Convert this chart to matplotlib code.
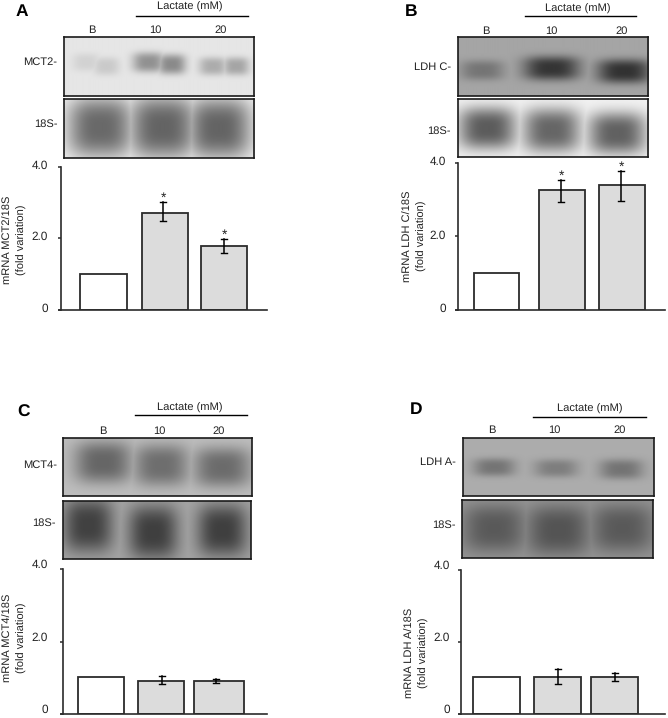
import matplotlib
matplotlib.use("Agg")
import matplotlib.pyplot as plt
from matplotlib.transforms import ScaledTranslation
import numpy as np

W, H = 668, 718
plt.rcParams["font.family"] = ["Liberation Sans", "DejaVu Sans"]
plt.rcParams["text.hinting"] = "no_hinting"
TXT = "#222222"
DARK = "#2b2b2b"

# values
a_values = [1.0, 2.7, 1.8]
a_low = [None, 2.49, 1.59]
a_high = [None, 3.02, 1.99]
b_values = [1.0, 3.27, 3.40]
b_low = [None, 2.94, 2.97]
b_high = [None, 3.54, 3.78]
c_values = [1.02, 0.92, 0.92]
c_low = [None, 0.83, 0.85]
c_high = [None, 1.05, 0.97]
d_values = [1.03, 1.03, 1.03]
d_low = [None, 0.83, 0.93]
d_high = [None, 1.25, 1.15]
tick_values = [0, 2, 4]
tick_labels = ["0", "2.0", "4.0"]
lane_labels = ["B", "10", "20"]

# blot bands: x, y, half width, half height, darkness
a_top = [(86, 62, 14, 9, 20), (106, 66, 13, 9, 28), (148, 62, 16, 10, 85), (171, 64, 14, 10, 92),
         (212, 66, 14, 9, 58), (235, 66, 13, 9, 65)]
a_18s = [(100, 127, 34, 31, 145), (162, 127, 35, 32, 150), (218, 128, 33, 31, 150)]
b_top = [(482, 70, 22, 10, 48), (551, 68, 28, 12, 112), (623, 71, 27, 12, 115)]
b_18s = [(487, 128, 29, 21, 150), (551, 130, 29, 22, 140), (616, 133, 29, 21, 145)]
c_top = [(103, 462, 29, 21, 88), (161, 465, 28, 21, 80), (222, 467, 29, 20, 82)]
c_18s = [(88, 525, 25, 27, 100), (153, 532, 25, 27, 102), (222, 530, 25, 26, 102)]
d_top = [(494, 467, 21, 9, 55), (556, 468, 22, 9, 46), (621, 469, 22, 10, 56)]
d_18s = [(494, 528, 32, 24, 60), (558, 530, 32, 25, 66), (622, 528, 32, 24, 60)]

panels = [
    dict(letter="A", letter_xy=(16, 12), values=a_values, low=a_low, high=a_high,
         axis=(60.5, 267, 310, 167), left=[80, 142, 201], right=[127, 188, 247], err_x=[163, 224],
         ylabel="mRNA MCT2/18S\n(fold variation)", ylabel_xy=(15, 240), tick_x=49, tick_up=2.5,
         lactate=(190, 7), line=(136, 248, 15.5), lanes=[(92, 30), (155, 30), (221, 30)],
         names=[("MCT2-", 57, 62), ("18S-", 58, 124)],
         blots=[((64, 254, 37, 96), 230, a_top), ((64, 254, 99, 158), 250, a_18s)], star=True),
    dict(letter="B", letter_xy=(405, 12), values=b_values, low=b_low, high=b_high,
         axis=(458, 665, 310, 163), left=[474, 539, 599], right=[519, 585, 645], err_x=[561, 621],
         ylabel="mRNA LDH C/18S\n(fold variation)", ylabel_xy=(415, 236), tick_x=447, tick_up=2,
         lactate=(578, 9), line=(525, 636, 16), lanes=[(486, 31), (551, 31), (622, 31)],
         names=[("LDH C-", 451, 67), ("18S-", 451, 131)],
         blots=[((458, 648, 37, 96), 165, b_top), ((458, 648, 99, 157), 242, b_18s)], star=True),
    dict(letter="C", letter_xy=(17, 412), values=c_values, low=c_low, high=c_high,
         axis=(63, 267, 714, 569), left=[78, 138, 194], right=[124, 184, 244], err_x=[162, 216],
         ylabel="mRNA MCT4/18S\n(fold variation)", ylabel_xy=(15, 638), tick_x=49, tick_up=5,
         lactate=(190, 408), line=(135, 247, 415), lanes=[(103, 431), (159, 431), (219, 431)],
         names=[("MCT4-", 57, 465), ("18S-", 56, 523)],
         blots=[((63, 252, 438, 496), 190, c_top), ((63, 251, 501, 559), 165, c_18s)], star=False),
    dict(letter="D", letter_xy=(410, 410), values=d_values, low=d_low, high=d_high,
         axis=(461, 665, 714, 570), left=[473, 534, 591], right=[520, 581, 638], err_x=[558, 615],
         ylabel="mRNA LDH A/18S\n(fold variation)", ylabel_xy=(417, 653), tick_x=451, tick_up=5,
         lactate=(590, 409), line=(533, 646, 417), lanes=[(492, 430), (554, 430), (620, 430)],
         names=[("LDH A-", 456, 462), ("18S-", 456, 525)],
         blots=[((463, 654, 438, 496), 172, d_top), ((462, 653, 500, 558), 150, d_18s)], star=False),
]


def px_rect(x0, x1, y_bottom, y_top):
    return [x0 / W, 1 - y_bottom / H, (x1 - x0) / W, (y_bottom - y_top) / H]


def put(x, y, s, **kw):
    fig.text(x / W, 1 - y / H, s, color=kw.pop("color", TXT), **kw)


def draw_blot(box, bg, bands):
    x0, x1, y0, y1 = box
    ax = fig.add_axes(px_rect(x0, x1, y1, y0))
    xx, yy = np.meshgrid(np.arange(x0, x1, 0.5), np.arange(y0, y1, 0.5))
    dark = np.zeros_like(xx, dtype=float)
    for cx, cy, sx, sy, depth in bands:
        band = depth * np.exp(-(np.abs((xx - cx) / sx) ** 3 + np.abs((yy - cy) / sy) ** 3))
        dark = np.maximum(dark, band)
    ax.imshow(bg - dark, cmap="gray", vmin=0, vmax=255, aspect="auto", extent=(x0, x1, y1, y0))
    ax.set_xticks([])
    ax.set_yticks([])
    for s in ax.spines.values():
        s.set_linewidth(1.2)
        s.set_color("#1a1a1a")


fig = plt.figure(figsize=(W / 100, H / 100), dpi=100, facecolor="white")

for p in panels:
    x0, x1, yb, yt = p["axis"]
    ax = fig.add_axes(px_rect(x0, x1, yb, yt))
    ax.patch.set_alpha(0)
    ax.set_xlim(x0, x1)
    ax.set_ylim(0, 4)
    lefts = np.array(p["left"])
    widths = np.array(p["right"]) - lefts
    colors = ["white", "#dcdcdc", "#dcdcdc"]
    ax.bar(lefts, p["values"], widths, align="edge", color=colors, edgecolor=DARK, linewidth=1.3, zorder=2)
    for ex, lo, hi in zip(p["err_x"], p["low"][1:], p["high"][1:]):
        ax.plot([ex, ex], [lo, hi], color="black", lw=1.1, zorder=3)
        for v in (lo, hi):
            ax.plot([ex - 3, ex + 3], [v, v], color="black", lw=1.0, zorder=3)
        if p["star"]:
            ax.annotate("*", (ex, hi), xytext=(0, -2), textcoords="offset points", ha="center", va="bottom",
                        fontsize=10, color=TXT)
    for side in ("top", "right"):
        ax.spines[side].set_visible(False)
    ax.spines["left"].set_linewidth(1.2)
    ax.spines["bottom"].set_linewidth(1.2)
    ax.spines["left"].set_color(DARK)
    ax.spines["bottom"].set_color(DARK)
    ax.spines["bottom"].set_bounds(x0 - 2, x1)
    ax.spines["bottom"].set_zorder(4)
    ax.set_xticks([])
    ax.set_yticks(tick_values)
    ax.set_yticklabels(tick_labels, fontsize=8.5, color=TXT)
    ax.tick_params(axis="y", length=2, width=1.1, pad=(x0 - p["tick_x"] - 2) * 0.72, color=DARK)
    # the printed numbers sit a little above their ticks
    up = ScaledTranslation(0, p["tick_up"] / 100, fig.dpi_scale_trans)
    for lab in ax.get_yticklabels():
        lab.set_transform(lab.get_transform() + up)

    for box, bg, bands in p["blots"]:
        draw_blot(box, bg, bands)

    put(p["letter_xy"][0], p["letter_xy"][1], p["letter"], fontsize=12.5, fontweight="bold", color="black",
        ha="left", va="center")
    put(p["ylabel_xy"][0], p["ylabel_xy"][1], p["ylabel"], fontsize=8, rotation=90, ha="center", va="center",
        multialignment="center", linespacing=1.5)
    put(p["lactate"][0], p["lactate"][1], "Lactate (mM)", fontsize=8, ha="center", va="center")
    lx0, lx1, ly = p["line"]
    fig.add_artist(plt.Line2D([lx0 / W, lx1 / W], [1 - ly / H, 1 - ly / H], color="black", lw=1.0))
    for (lx, lyy), lab in zip(p["lanes"], lane_labels):
        put(lx, lyy, lab, fontsize=8, ha="center", va="center")
    for name, nx, ny in p["names"]:
        put(nx, ny, name, fontsize=8, ha="right", va="center")

fig.savefig("out.png", dpi=100)
